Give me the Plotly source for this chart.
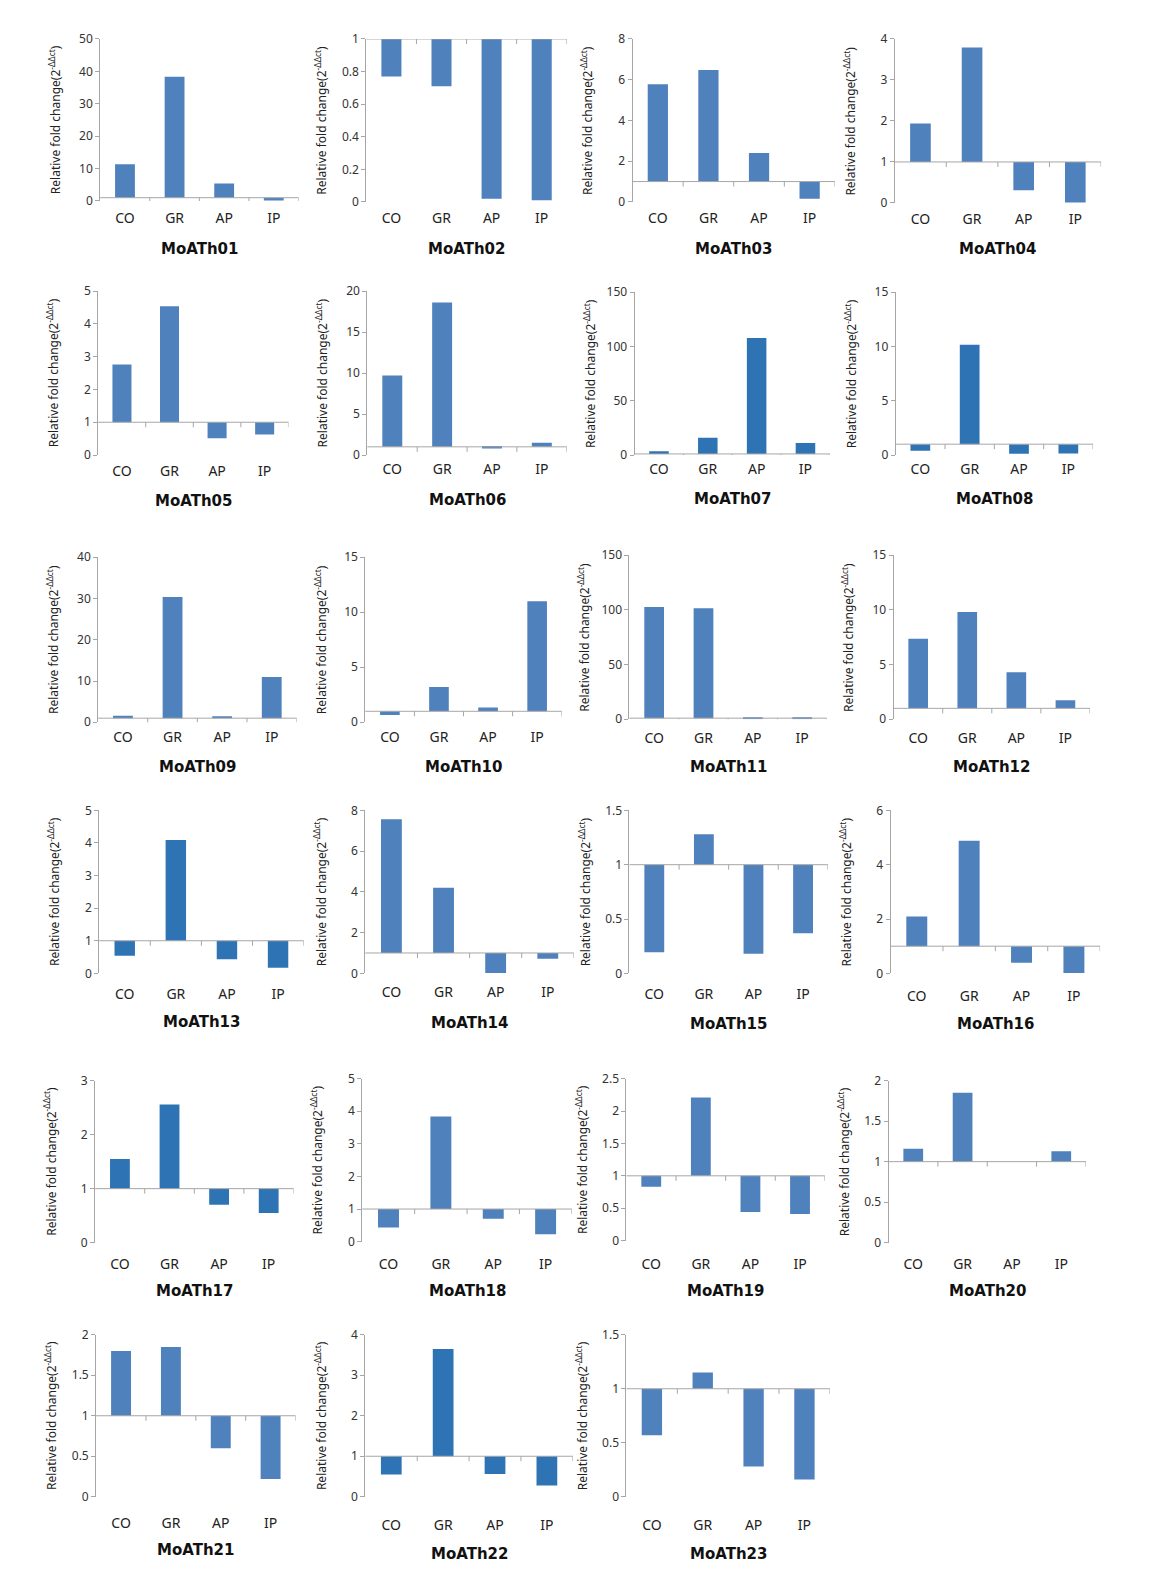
import plotly.graph_objects as go

# ---------------- data ----------------
categories = ["CO", "GR", "AP", "IP"]
gene_names = ["MoATh%02d" % i for i in range(1, 24)]

moath01 = [11.3, 38.3, 5.4, 0.15]
moath02 = [0.77, 0.71, 0.02, 0.01]
moath03 = [5.78, 6.48, 2.4, 0.16]
moath04 = [1.94, 3.79, 0.31, 0.01]
moath05 = [2.76, 4.54, 0.51, 0.63]
moath06 = [9.7, 18.6, 0.8, 1.5]
moath07 = [3.4, 16.0, 107.6, 11.0]
moath08 = [0.4, 10.15, 0.12, 0.15]
moath09 = [1.6, 30.4, 1.3, 11.0]
moath10 = [0.67, 3.2, 1.35, 11.0]
moath11 = [102.7, 101.5, 0.8, 0.85]
moath12 = [7.36, 9.8, 4.3, 1.73]
moath13 = [0.54, 4.09, 0.43, 0.17]
moath14 = [7.56, 4.2, 0.02, 0.72]
moath15 = [0.195, 1.28, 0.18, 0.37]
moath16 = [2.09, 4.88, 0.39, 0.01]
moath17 = [1.55, 2.56, 0.7, 0.55]
moath18 = [0.43, 3.84, 0.70, 0.23]
moath19 = [0.83, 2.21, 0.44, 0.41]
moath20 = [1.16, 1.85, 1.0, 1.13]
moath21 = [1.80, 1.85, 0.60, 0.22]
moath22 = [0.55, 3.65, 0.56, 0.28]
moath23 = [0.57, 1.15, 0.28, 0.16]

all_values = [moath01, moath02, moath03, moath04, moath05, moath06, moath07, moath08,
              moath09, moath10, moath11, moath12, moath13, moath14, moath15, moath16,
              moath17, moath18, moath19, moath20, moath21, moath22, moath23]

y_max = [50, 1, 8, 4, 5, 20, 150, 15, 40, 15, 150, 15, 5, 8, 1.5, 6, 3, 5, 2.5, 2, 2, 4, 1.5]
y_dtick = [10, 0.2, 2, 1, 1, 5, 50, 5, 10, 5, 50, 5, 1, 2, 0.5, 2, 1, 1, 0.5, 0.5, 0.5, 1, 0.5]
baseline = 1.0

# ---------------- layout (pixel boxes in reference picture, 1162-wide scale) ----------------
# (y-axis x, top y, right x, zero y, label y, title y)
boxes = [
    (99, 38, 295, 198, 216, 245), (362, 38, 560, 199, 216, 245),
    (625, 38, 825, 199, 216, 245), (884, 38, 1088, 200, 217, 245),
    (97, 287, 285, 449, 466, 494), (363, 287, 560, 449, 464, 493),
    (627, 288, 820, 449, 464, 492), (885, 288, 1080, 449, 464, 492),
    (97, 550, 293, 713, 729, 757), (361, 550, 555, 713, 729, 757),
    (622, 548, 817, 710, 729, 757), (883, 548, 1077, 710, 729, 757),
    (98, 800, 300, 961, 982, 1009), (361, 800, 567, 961, 980, 1010),
    (622, 800, 818, 961, 982, 1011), (880, 800, 1087, 961, 984, 1011),
    (94, 1067, 290, 1227, 1249, 1275), (358, 1065, 565, 1226, 1249, 1275),
    (619, 1065, 815, 1225, 1249, 1275), (878, 1067, 1073, 1227, 1249, 1275),
    (95, 1318, 292, 1478, 1505, 1531), (361, 1318, 566, 1478, 1507, 1535),
    (619, 1318, 820, 1478, 1507, 1535),
]
W, H = 1176, 1587
S = W / 1162.0


def ycal(v):
    # vertical calibration of measured positions
    return (v - 8.4) / 0.989


dark_panels = {6, 7, 12, 16, 21}
col_light = "#4F81BD"
col_dark = "#2E74B5"
axis_col = "#A6A6A6"
font_main = "Noto Sans"

fig = go.Figure()
shapes = []
annotations = []
layout_axes = {}

for i, (name, vals, ymx, dt, box) in enumerate(zip(gene_names, all_values, y_max, y_dtick, boxes)):
    k = i + 1
    xs = "x" if k == 1 else "x%d" % k
    ys = "y" if k == 1 else "y%d" % k
    xa = "xaxis" if k == 1 else "xaxis%d" % k
    ya = "yaxis" if k == 1 else "yaxis%d" % k
    bx0, bytop, bx1, byzero, bylab, bytit = box
    x0, x1 = bx0 * S, bx1 * S
    ytop, yzero, ylab, ytit = [ycal(v) * S for v in (bytop, byzero, bylab, bytit)]
    color = col_dark if i in dark_panels else col_light

    fig.add_trace(go.Bar(
        x=categories, y=[v - baseline for v in vals], base=baseline,
        marker=dict(color=color, line=dict(width=0)), width=0.4,
        xaxis=xs, yaxis=ys, showlegend=False, hoverinfo="skip"))

    layout_axes[xa] = dict(
        domain=[x0 / W, x1 / W], anchor=ys, type="category",
        range=[-0.5, 3.5], showline=False, showgrid=False, zeroline=False,
        ticks="outside", ticklen=max(0, (ylab - yzero) - 14), tickcolor="rgba(0,0,0,0)",
        tickfont=dict(family=font_main, size=14, color="#222222"), fixedrange=True)
    layout_axes[ya] = dict(
        domain=[1 - yzero / H, 1 - ytop / H], anchor=xs,
        range=[0, ymx], dtick=dt, tick0=0, showline=True, linecolor=axis_col, linewidth=1,
        showgrid=False, zeroline=False, ticks="outside", ticklen=4, tickcolor=axis_col,
        tickfont=dict(family=font_main, size=12, color="#333333"), fixedrange=True)

    # baseline at fold change = 1
    shapes.append(dict(type="line", xref="%s domain" % xs, yref=ys, x0=0, x1=1,
                       y0=baseline, y1=baseline, line=dict(color=axis_col, width=1)))
    for pos in [0.5, 1.5, 2.5, 3.5]:
        shapes.append(dict(type="line", xref=xs, yref=ys, x0=pos, x1=pos,
                           ysizemode="pixel", yanchor=baseline, y0=0, y1=-5,
                           line=dict(color=axis_col, width=1)))

    annotations.append(dict(
        text="Relative fold change(2<sup>-ΔΔct</sup>)", textangle=-90,
        xref="paper", yref="paper", x=x0 / W, y=1 - (ytop + yzero) / 2 / H, xshift=-45,
        xanchor="center", yanchor="middle", showarrow=False,
        font=dict(family=font_main, size=12, color="#222222")))
    annotations.append(dict(
        text=name, xref="paper", yref="paper",
        x=(x0 + x1) / 2 / W, y=1 - ytit / H, xanchor="center", yanchor="middle", showarrow=False,
        font=dict(family="DejaVu Sans", size=15, color="#111111", weight="bold")))

fig.update_layout(
    width=W, height=H, autosize=False, margin=dict(l=0, r=0, t=0, b=0, pad=0),
    paper_bgcolor="white", plot_bgcolor="white",
    shapes=shapes, annotations=annotations, **layout_axes)

post_js = (
    "document.body.style.margin='0';document.body.style.padding='0';"
    "document.querySelectorAll('text').forEach(function(t){"
    "if(!t.textContent || !t.textContent.trim()){t.parentNode.removeChild(t);}});"
)

fig.write_html("out.html",
               config={"displayModeBar": False, "responsive": False},
               post_script=post_js)
